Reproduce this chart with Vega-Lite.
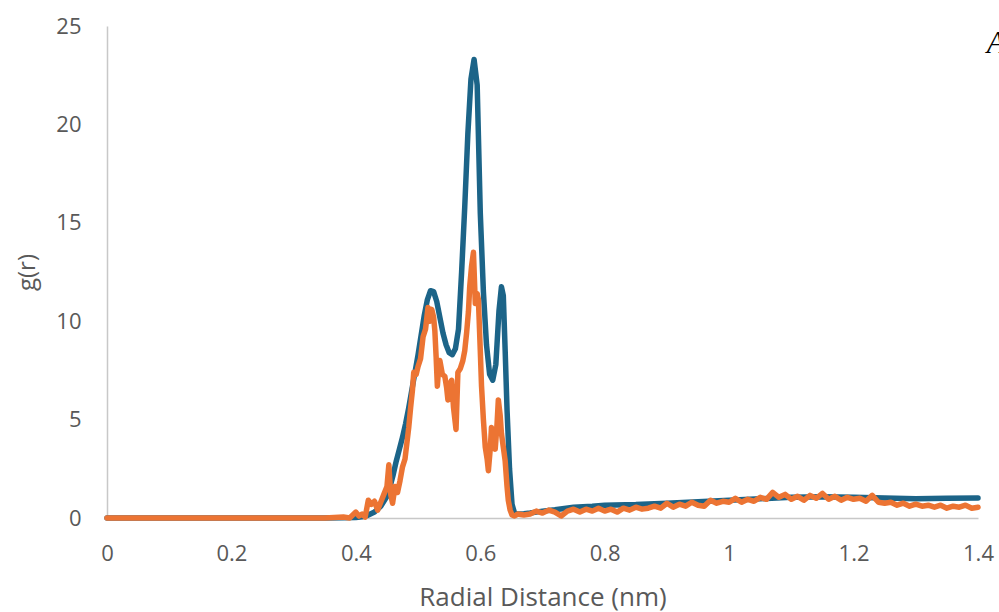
{
  "$schema": "https://vega.github.io/schema/vega-lite/v6.json",
  "width": 871,
  "height": 492,
  "autosize": {"type": "none"},
  "padding": {"left": 107, "top": 26, "right": 21, "bottom": 94},
  "background": "white",
  "config": {"view": {"stroke": null}},
  "datasets": {
    "blue": [
      {"r": 0, "g": 0}, {"r": 0.1, "g": 0}, {"r": 0.2, "g": 0}, {"r": 0.3, "g": 0}, {"r": 0.35, "g": 0},
      {"r": 0.38, "g": 0.01}, {"r": 0.4, "g": 0.03}, {"r": 0.41, "g": 0.06}, {"r": 0.42, "g": 0.15},
      {"r": 0.43, "g": 0.3}, {"r": 0.44, "g": 0.6}, {"r": 0.45, "g": 1.1}, {"r": 0.455, "g": 1.6},
      {"r": 0.46, "g": 2.2}, {"r": 0.465, "g": 2.9}, {"r": 0.47, "g": 3.5}, {"r": 0.475, "g": 4.1},
      {"r": 0.48, "g": 4.8}, {"r": 0.485, "g": 5.6}, {"r": 0.49, "g": 6.5}, {"r": 0.495, "g": 7.4},
      {"r": 0.5, "g": 8.3}, {"r": 0.505, "g": 9.3}, {"r": 0.51, "g": 10.3}, {"r": 0.515, "g": 11.1},
      {"r": 0.52, "g": 11.55}, {"r": 0.525, "g": 11.5}, {"r": 0.53, "g": 11.0}, {"r": 0.535, "g": 10.2},
      {"r": 0.54, "g": 9.4}, {"r": 0.545, "g": 8.8}, {"r": 0.55, "g": 8.4}, {"r": 0.555, "g": 8.3},
      {"r": 0.56, "g": 8.6}, {"r": 0.565, "g": 9.6}, {"r": 0.57, "g": 12.5}, {"r": 0.575, "g": 15.8},
      {"r": 0.58, "g": 19.5}, {"r": 0.585, "g": 22.3}, {"r": 0.59, "g": 23.3}, {"r": 0.595, "g": 22.0},
      {"r": 0.6, "g": 15.5}, {"r": 0.605, "g": 11.5}, {"r": 0.61, "g": 8.8}, {"r": 0.615, "g": 7.3},
      {"r": 0.62, "g": 7.0}, {"r": 0.625, "g": 7.8}, {"r": 0.63, "g": 10.5}, {"r": 0.634, "g": 11.75},
      {"r": 0.637, "g": 11.3}, {"r": 0.64, "g": 8.5}, {"r": 0.643, "g": 5.5}, {"r": 0.647, "g": 2.5},
      {"r": 0.651, "g": 0.7}, {"r": 0.655, "g": 0.25}, {"r": 0.66, "g": 0.2}, {"r": 0.67, "g": 0.22},
      {"r": 0.68, "g": 0.25}, {"r": 0.7, "g": 0.35}, {"r": 0.72, "g": 0.42}, {"r": 0.75, "g": 0.55},
      {"r": 0.78, "g": 0.6}, {"r": 0.8, "g": 0.65}, {"r": 0.85, "g": 0.68}, {"r": 0.9, "g": 0.75},
      {"r": 0.95, "g": 0.82}, {"r": 1.0, "g": 0.9}, {"r": 1.05, "g": 0.98}, {"r": 1.1, "g": 1.05},
      {"r": 1.15, "g": 1.08}, {"r": 1.2, "g": 1.05}, {"r": 1.25, "g": 1.02}, {"r": 1.3, "g": 0.98},
      {"r": 1.35, "g": 1.0}, {"r": 1.4, "g": 1.02}
    ],
    "orange": [
      {"r": 0, "g": 0}, {"r": 0.35, "g": 0}, {"r": 0.38, "g": 0.05}, {"r": 0.39, "g": 0.0},
      {"r": 0.4, "g": 0.3}, {"r": 0.405, "g": 0.1}, {"r": 0.41, "g": 0.2}, {"r": 0.415, "g": 0.05},
      {"r": 0.42, "g": 0.9}, {"r": 0.425, "g": 0.7}, {"r": 0.43, "g": 0.85}, {"r": 0.435, "g": 0.4},
      {"r": 0.44, "g": 0.8}, {"r": 0.445, "g": 1.2}, {"r": 0.45, "g": 1.6}, {"r": 0.453, "g": 2.7},
      {"r": 0.456, "g": 1.2}, {"r": 0.459, "g": 0.75}, {"r": 0.463, "g": 1.6}, {"r": 0.467, "g": 1.3},
      {"r": 0.471, "g": 1.9}, {"r": 0.475, "g": 2.6}, {"r": 0.479, "g": 3.0}, {"r": 0.482, "g": 3.8},
      {"r": 0.485, "g": 4.6}, {"r": 0.488, "g": 5.6}, {"r": 0.491, "g": 6.5}, {"r": 0.493, "g": 7.4},
      {"r": 0.497, "g": 7.3}, {"r": 0.5, "g": 7.7}, {"r": 0.504, "g": 8.1}, {"r": 0.508, "g": 9.2},
      {"r": 0.512, "g": 9.6}, {"r": 0.516, "g": 10.7}, {"r": 0.519, "g": 10.0}, {"r": 0.522, "g": 10.6},
      {"r": 0.525, "g": 10.2}, {"r": 0.527, "g": 9.5}, {"r": 0.529, "g": 8.2}, {"r": 0.531, "g": 6.7},
      {"r": 0.533, "g": 7.6}, {"r": 0.535, "g": 8.0}, {"r": 0.539, "g": 7.3}, {"r": 0.543, "g": 7.2},
      {"r": 0.546, "g": 6.6}, {"r": 0.548, "g": 6.0}, {"r": 0.551, "g": 6.8}, {"r": 0.554, "g": 7.0},
      {"r": 0.557, "g": 5.6}, {"r": 0.561, "g": 4.5}, {"r": 0.564, "g": 7.4}, {"r": 0.568, "g": 7.6},
      {"r": 0.572, "g": 8.0}, {"r": 0.575, "g": 8.5}, {"r": 0.578, "g": 9.4}, {"r": 0.581, "g": 10.5},
      {"r": 0.583, "g": 11.75}, {"r": 0.586, "g": 12.8}, {"r": 0.589, "g": 13.5}, {"r": 0.592, "g": 10.9},
      {"r": 0.595, "g": 11.4}, {"r": 0.597, "g": 11.1}, {"r": 0.6, "g": 8.5}, {"r": 0.602, "g": 6.7},
      {"r": 0.605, "g": 5.0}, {"r": 0.608, "g": 3.6}, {"r": 0.611, "g": 3.0}, {"r": 0.613, "g": 2.4},
      {"r": 0.616, "g": 3.5}, {"r": 0.618, "g": 4.6}, {"r": 0.621, "g": 4.0}, {"r": 0.624, "g": 3.5},
      {"r": 0.627, "g": 4.8}, {"r": 0.629, "g": 6.0}, {"r": 0.632, "g": 5.2}, {"r": 0.634, "g": 4.3},
      {"r": 0.637, "g": 3.6}, {"r": 0.64, "g": 2.9}, {"r": 0.643, "g": 1.6}, {"r": 0.645, "g": 0.9},
      {"r": 0.648, "g": 0.4}, {"r": 0.651, "g": 0.15}, {"r": 0.655, "g": 0.1}, {"r": 0.66, "g": 0.2},
      {"r": 0.67, "g": 0.15}, {"r": 0.68, "g": 0.2}, {"r": 0.69, "g": 0.35}, {"r": 0.7, "g": 0.25},
      {"r": 0.71, "g": 0.4}, {"r": 0.72, "g": 0.3}, {"r": 0.73, "g": 0.1}, {"r": 0.74, "g": 0.35},
      {"r": 0.75, "g": 0.45}, {"r": 0.76, "g": 0.3}, {"r": 0.77, "g": 0.45}, {"r": 0.78, "g": 0.35},
      {"r": 0.79, "g": 0.5}, {"r": 0.8, "g": 0.35}, {"r": 0.81, "g": 0.45}, {"r": 0.82, "g": 0.3},
      {"r": 0.83, "g": 0.5}, {"r": 0.84, "g": 0.4}, {"r": 0.85, "g": 0.55}, {"r": 0.86, "g": 0.45},
      {"r": 0.87, "g": 0.5}, {"r": 0.88, "g": 0.6}, {"r": 0.89, "g": 0.5}, {"r": 0.9, "g": 0.75},
      {"r": 0.91, "g": 0.55}, {"r": 0.92, "g": 0.7}, {"r": 0.93, "g": 0.6}, {"r": 0.94, "g": 0.8},
      {"r": 0.95, "g": 0.65}, {"r": 0.96, "g": 0.6}, {"r": 0.97, "g": 0.9}, {"r": 0.98, "g": 0.75},
      {"r": 0.99, "g": 0.85}, {"r": 1.0, "g": 0.8}, {"r": 1.01, "g": 1.0}, {"r": 1.02, "g": 0.8},
      {"r": 1.03, "g": 0.95}, {"r": 1.04, "g": 0.85}, {"r": 1.05, "g": 1.05}, {"r": 1.06, "g": 0.95},
      {"r": 1.07, "g": 1.3}, {"r": 1.08, "g": 1.05}, {"r": 1.09, "g": 1.2}, {"r": 1.1, "g": 0.95},
      {"r": 1.11, "g": 1.1}, {"r": 1.12, "g": 0.9}, {"r": 1.13, "g": 1.15}, {"r": 1.14, "g": 1.0},
      {"r": 1.15, "g": 1.25}, {"r": 1.16, "g": 0.95}, {"r": 1.17, "g": 1.1}, {"r": 1.18, "g": 0.9},
      {"r": 1.19, "g": 1.05}, {"r": 1.2, "g": 0.95}, {"r": 1.21, "g": 1.0}, {"r": 1.22, "g": 0.85},
      {"r": 1.23, "g": 1.15}, {"r": 1.24, "g": 0.8}, {"r": 1.25, "g": 0.75}, {"r": 1.26, "g": 0.8},
      {"r": 1.27, "g": 0.65}, {"r": 1.28, "g": 0.75}, {"r": 1.29, "g": 0.6}, {"r": 1.3, "g": 0.7},
      {"r": 1.31, "g": 0.6}, {"r": 1.32, "g": 0.65}, {"r": 1.33, "g": 0.55}, {"r": 1.34, "g": 0.65},
      {"r": 1.35, "g": 0.5}, {"r": 1.36, "g": 0.6}, {"r": 1.37, "g": 0.55}, {"r": 1.38, "g": 0.65},
      {"r": 1.39, "g": 0.5}, {"r": 1.4, "g": 0.55}
    ],
    "label": [{"r": 1.414, "g": 24.1, "t": "A"}]
  },
  "encoding": {
    "x": {
      "field": "r", "type": "quantitative",
      "scale": {"domain": [0, 1.4], "nice": false, "zero": false},
      "axis": {
        "title": "Radial Distance (nm)", "values": [0, 0.2, 0.4, 0.6, 0.8, 1, 1.2, 1.4],
        "grid": false, "ticks": false, "domainColor": "#c8c8c8", "domainWidth": 1.5,
        "labelFont": "Open Sans", "labelFontSize": 22, "labelColor": "#595959", "labelPadding": 25,
        "labelFlush": false, "labelExpr": "format(datum.value, '')",
        "titleFont": "Open Sans", "titleFontSize": 26, "titleFontWeight": "normal", "titleColor": "#595959", "titlePadding": 20
      }
    },
    "y": {
      "field": "g", "type": "quantitative",
      "scale": {"domain": [0, 25], "nice": false},
      "axis": {
        "title": "g(r)", "values": [0, 5, 10, 15, 20, 25],
        "grid": false, "ticks": false, "domainColor": "#c8c8c8", "domainWidth": 1.5,
        "labelFont": "Open Sans", "labelFontSize": 22, "labelColor": "#595959", "labelPadding": 26,
        "labelFlush": false,
        "titleFont": "Open Sans", "titleFontSize": 24, "titleFontWeight": "normal", "titleColor": "#595959", "titlePadding": 16
      }
    }
  },
  "layer": [
    {"data": {"name": "blue"}, "mark": {"type": "line", "color": "#1c6488", "strokeWidth": 5.5, "strokeJoin": "round", "strokeCap": "round"}},
    {"data": {"name": "orange"}, "mark": {"type": "line", "color": "#ec7433", "strokeWidth": 5.5, "strokeJoin": "round", "strokeCap": "round"}},
    {"data": {"name": "label"}, "mark": {"type": "text", "align": "left", "baseline": "middle", "font": "Liberation Serif", "fontStyle": "italic", "fontSize": 31, "color": "#000000", "clip": false},
     "encoding": {"text": {"field": "t"}}}
  ]
}
